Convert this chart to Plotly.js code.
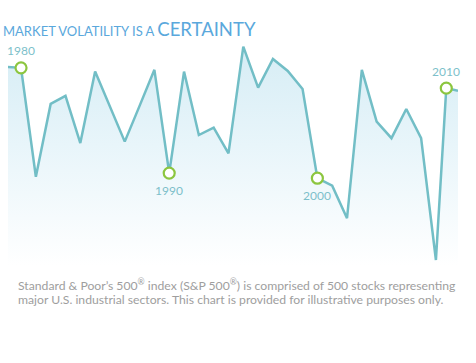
<!DOCTYPE html>
<html>
<head>
<meta charset="utf-8">
<script src="https://cdn.plot.ly/plotly-3.0.1.min.js"></script>
<style>html,body{margin:0;padding:0;background:#fff;}#chart{width:476px;height:363px;}</style>
</head>
<body>
<div id="chart"></div>
<script>
// Year positions (the final points of the illustration are spaced irregularly)
const years = [1979, 1980, 1981, 1982, 1983, 1984, 1985, 1986, 1987, 1988, 1989,
  1990, 1991, 1992, 1993, 1994, 1995, 1996, 1997, 1998, 1999,
  2000, 2001, 2002, 2003, 2004, 2005, 2006, 2007, 2008, 2008.7, 2009.49];
// Annual return (%)
const returns = [30.5, 30.2, -7.9, 17.6, 20.4, 3.9, 28.9, 16.6, 4.4, 16.9, 29.5,
  -6.6, 28.9, 6.7, 9.3, 0.3, 37.6, 23.3, 33.3, 29.1, 22.8,
  -8.4, -11.0, -22.4, 29.5, 11.4, 5.6, 15.8, 5.6, -37.0, 23.1, 22.2];
// Highlighted milestones
const milestoneX = [1980, 1990, 2000, 2008.7];
const milestoneY = [30.2, -6.6, -8.4, 23.1];
const milestoneLabels = ['1980', '1990', '2000', '2010'];
const milestoneAbove = [true, false, false, true];

const yMin = -39.1, yMax = 39.94;

const base = {
  x: [years[0], years[years.length - 1]],
  y: [yMin, yMin],
  mode: 'lines', line: {width: 0}, hoverinfo: 'skip', showlegend: false
};
const area = {
  x: years, y: returns, mode: 'lines',
  line: {color: '#72bec6', width: 2.5},
  fill: 'tonexty',
  fillcolor: '#d8eef6',
  fillgradient: {type: 'vertical', start: yMin, stop: 38,
    colorscale: [[0, 'rgba(255,255,255,1)'], [0.55, '#e8f5fa'], [1, '#d6edf5']]},
  showlegend: false
};
const marks = {
  x: milestoneX, y: milestoneY, mode: 'markers',
  marker: {size: 11, color: '#ffffff', line: {color: '#8cc63f', width: 2.2}},
  cliponaxis: false, showlegend: false
};

const yearNotes = milestoneLabels.map((t, i) => ({
  xref: 'x', yref: 'y', x: milestoneX[i], y: milestoneY[i],
  text: t, showarrow: false, xanchor: 'center', yanchor: 'middle',
  yshift: milestoneAbove[i] ? 17 : -17,
  font: {family: 'Lato, sans-serif', size: 12, color: '#7dbfca'}
}));

const footLines = [
  'Standard &amp; Poor’s 500<sup>®</sup> index (S&amp;P 500<sup>®</sup>) is comprised of 500 stocks representing',
  'major U.S. industrial sectors. This chart is provided for illustrative purposes only.'
];
const footNotes = footLines.map((t, i) => ({
  xref: 'paper', yref: 'paper', x: (16 - 8) / 450, y: -(285 + 14 * i - 266) / 226,
  xanchor: 'left', yanchor: 'middle', align: 'left', showarrow: false,
  text: t, font: {family: 'Lato, sans-serif', size: 12.2, color: '#9e9e9e'}
}));

const layout = {
  width: 476, height: 363,
  margin: {l: 8, r: 18, t: 40, b: 97},
  paper_bgcolor: '#ffffff', plot_bgcolor: '#ffffff',
  showlegend: false,
  xaxis: {range: [1979.12, 2009.49], visible: false, fixedrange: true},
  yaxis: {range: [yMin, yMax], visible: false, fixedrange: true},
  title: {
    text: 'MARKET VOLATILITY IS A <span style="font-size:18.5px">CERTAINTY</span>',
    font: {family: 'Lato, sans-serif', size: 13, color: '#5aa8dc'},
    x: 3 / 476, xref: 'container', xanchor: 'left',
    y: 1 - 36 / 363, yref: 'container', yanchor: 'bottom'
  },
  annotations: yearNotes.concat(footNotes)
};

Plotly.newPlot('chart', [base, area, marks], layout, {displayModeBar: false, staticPlot: true});
</script>
</body>
</html>
